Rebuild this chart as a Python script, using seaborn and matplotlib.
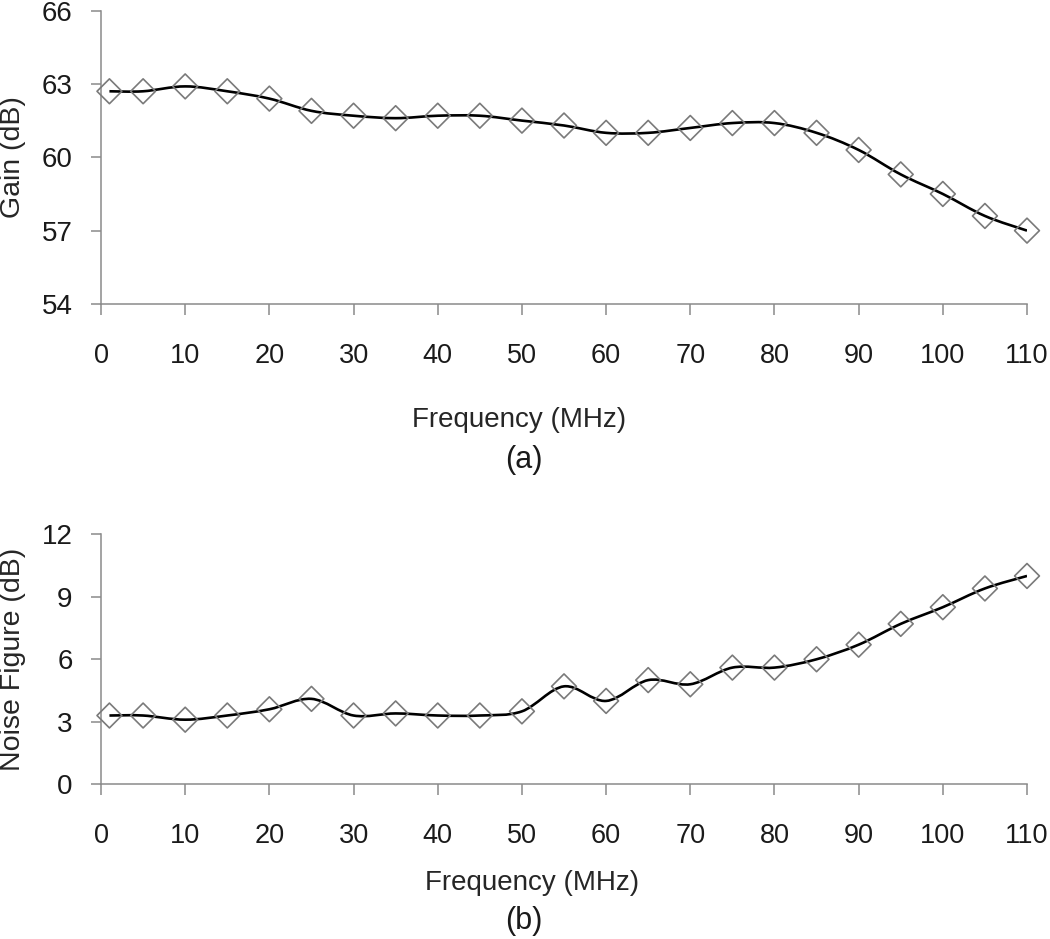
import numpy as np
import matplotlib
matplotlib.use('Agg')
import matplotlib.pyplot as plt
import seaborn as sns
from matplotlib.path import Path
from matplotlib.patches import PathPatch

# data
freq = [1, 5, 10, 15, 20, 25, 30, 35, 40, 45, 50, 55, 60, 65, 70, 75, 80, 85, 90, 95, 100, 105, 110]
gain = [62.7, 62.7, 62.9, 62.7, 62.4, 61.9, 61.7, 61.6, 61.7, 61.7, 61.5, 61.3,
        61.0, 61.0, 61.2, 61.4, 61.4, 61.0, 60.3, 59.3, 58.5, 57.6, 57.0]
noise_fig = [3.3, 3.3, 3.1, 3.3, 3.6, 4.1, 3.3, 3.4, 3.3, 3.3, 3.5, 4.7,
             4.0, 5.0, 4.8, 5.6, 5.6, 6.0, 6.7, 7.7, 8.5, 9.4, 10.0]
x_ticks = list(range(0, 111, 10))

sns.set_style('white')
plt.rcParams['font.family'] = ['Liberation Sans', 'DejaVu Sans']
plt.rcParams['text.color'] = '#1a1a1a'

GREY = '#8a8a8a'


def smooth_path(xs, ys):
    # Excel-style smoothed line: cubic Bezier segments (Catmull-Rom handles)
    pts = np.column_stack([xs, ys]).astype(float)
    ext = np.vstack([pts[0], pts, pts[-1]])
    verts = [pts[0]]
    codes = [Path.MOVETO]
    for i in range(1, len(ext) - 2):
        p0, p1, p2, p3 = ext[i - 1], ext[i], ext[i + 1], ext[i + 2]
        c1 = p1 + (p2 - p0) / 6.0
        c2 = p2 - (p3 - p1) / 6.0
        verts += [c1, c2, p2]
        codes += [Path.CURVE4] * 3
    return Path(verts, codes)


def draw_panel(ax, y, ylim, yticks, ylabel, xlab_pos, tag, tag_pos):
    patch = PathPatch(smooth_path(freq, y), facecolor='none', edgecolor='black',
                      lw=1.9, zorder=2)
    ax.add_patch(patch)
    pts = sns.scatterplot(x=freq, y=y, ax=ax, marker='D', s=160, facecolors='none',
                          edgecolors='#7a7a7a', linewidths=1.2, zorder=3)
    for c in ax.collections:
        c.set_clip_on(False)
    ax.set_xlim(0, 110)
    ax.set_ylim(*ylim)
    ax.set_xticks(x_ticks)
    ax.set_yticks(yticks)
    for s in ['top', 'right']:
        ax.spines[s].set_visible(False)
    for s in ['left', 'bottom']:
        ax.spines[s].set_color(GREY)
        ax.spines[s].set_linewidth(1.1)
    ax.tick_params(axis='x', bottom=True, direction='out', length=8, width=1.1, color=GREY,
                   labelsize=19.5, pad=20, labelcolor='#1a1a1a')
    ax.tick_params(axis='y', left=True, direction='out', length=7.5, width=1.1, color=GREY,
                   labelsize=20, pad=13, labelcolor='#1a1a1a')
    ax.set_xlabel('Frequency (MHz)', fontsize=20, va='center')
    ax.xaxis.set_label_coords(*xlab_pos)
    ax.set_ylabel(ylabel, fontsize=20.5, va='center')
    ax.yaxis.set_label_coords(-0.095, 0.5)
    ax.text(tag_pos[0], tag_pos[1], tag, transform=ax.transAxes, fontsize=22,
            ha='center', va='center')


fig = plt.figure(figsize=(10.5, 9.39), dpi=100)
ax1 = fig.add_axes([0.0962, 0.6763, 0.8819, 0.3124])
ax2 = fig.add_axes([0.0962, 0.1648, 0.8819, 0.2662])

draw_panel(ax1, gain, (54, 66), [54, 57, 60, 63, 66], 'Gain (dB)',
           (0.451, -0.395), '(a)', (0.457, -0.532))
draw_panel(ax2, noise_fig, (0, 12), [0, 3, 6, 9, 12], 'Noise Figure (dB)',
           (0.465, -0.395), '(b)', (0.457, -0.547))

fig.savefig('out.png', dpi=100)
